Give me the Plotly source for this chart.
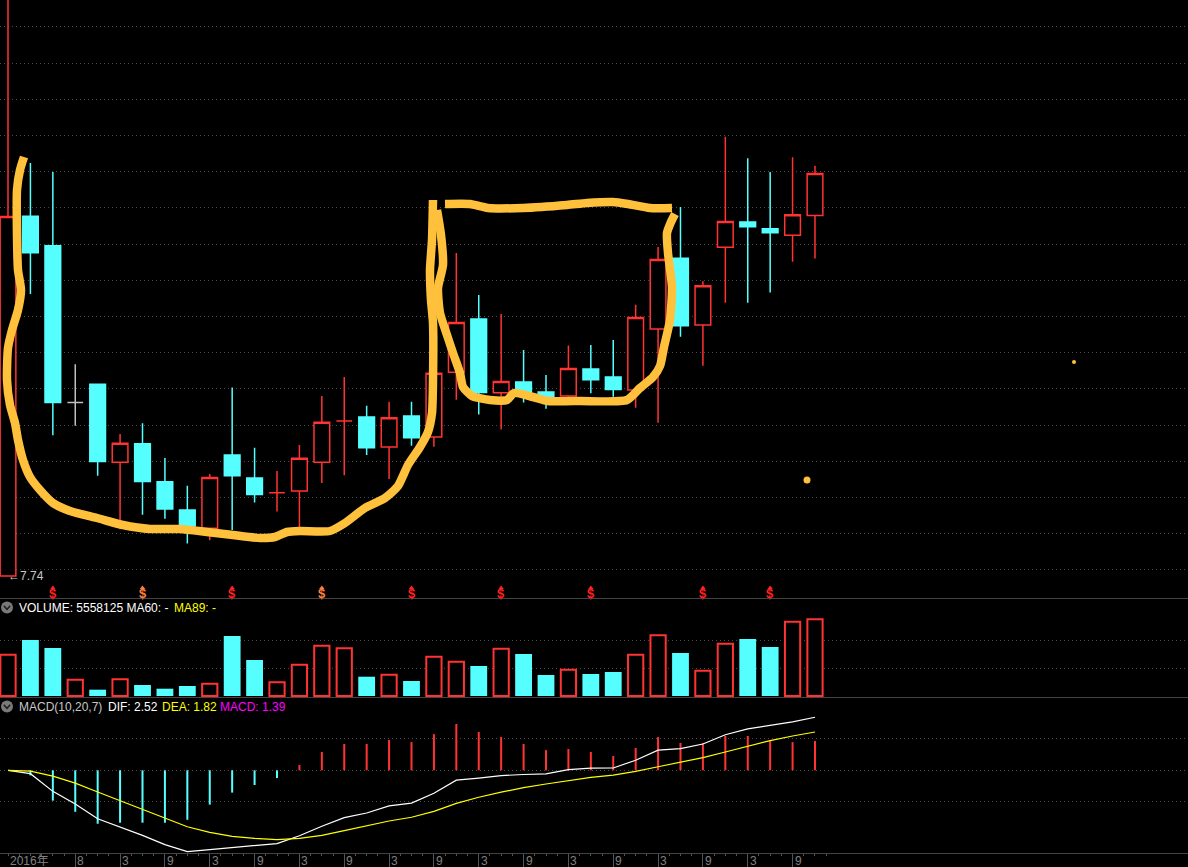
import plotly.graph_objects as go

W, H = 1188, 867

# ---------------- data ----------------
candle_index = list(range(37))
open_ = [7.74, 17.68, 16.86, 12.53, 13.04, 10.88, 11.39, 10.34, 9.56, 9.06,
         11.08, 10.45, 10.04, 10.09, 10.88, 12.02, 12.13, 11.30, 12.16, 11.58,
         13.37, 14.84, 12.80, 13.10, 12.82, 12.71, 13.46, 13.24, 12.88, 14.56,
         16.52, 14.67, 16.82, 17.52, 17.33, 17.15, 17.70]
high_ = [23.65, 19.15, 18.90, 13.59, 13.05, 11.66, 11.96, 11.00, 10.23, 10.56,
         12.95, 11.28, 10.64, 11.36, 12.71, 13.24, 12.44, 12.55, 12.55, 13.38,
         16.66, 15.50, 14.98, 13.98, 13.29, 14.11, 14.12, 14.26, 15.23, 16.83,
         17.93, 15.88, 19.87, 19.28, 18.90, 19.31, 19.07]
low_ = [7.74, 15.53, 11.63, 11.89, 10.51, 9.03, 9.43, 9.32, 8.64, 8.73,
        9.01, 9.77, 9.52, 9.09, 10.31, 10.52, 11.08, 10.42, 11.34, 11.31,
        12.61, 12.20, 11.79, 12.53, 12.36, 12.66, 12.79, 12.69, 12.39, 11.97,
        14.35, 13.55, 15.29, 15.29, 15.57, 16.42, 16.51]
close_ = [17.67, 16.67, 12.53, 12.53, 10.90, 11.41, 10.35, 9.59, 9.12, 10.46,
          10.51, 9.99, 10.04, 10.99, 11.99, 12.02, 11.28, 12.11, 11.56, 13.34,
          14.74, 12.81, 13.11, 12.79, 12.69, 13.47, 13.16, 12.89, 14.88, 16.48,
          14.65, 15.76, 17.53, 17.39, 17.22, 17.72, 18.86]
volume = [2993000, 4058000, 3478000, 1181000, 457000, 1210000, 797000, 529000, 725000, 891000,
          4348000, 2609000, 993000, 2268000, 3645000, 3457000, 1399000, 1544000, 1087000, 2848000,
          2486000, 2174000, 3428000, 3044000, 1522000, 1906000, 1594000, 1739000, 2993000, 4399000,
          3116000, 1833000, 3790000, 4131000, 3551000, 5384000, 5558125]
dif = [0.00, -0.16, -1.00, -1.60, -2.30, -2.69, -3.09, -3.53, -3.86, -3.77,
       -3.67, -3.58, -3.48, -3.11, -2.66, -2.25, -2.03, -1.69, -1.56, -1.09,
       -0.47, -0.37, -0.25, -0.20, -0.17, 0.03, 0.10, 0.11, 0.48, 0.96,
       1.03, 1.25, 1.69, 1.97, 2.13, 2.30, 2.52]
dea = [0.00, -0.04, -0.28, -0.61, -1.03, -1.44, -1.84, -2.28, -2.68, -2.95,
       -3.14, -3.23, -3.29, -3.23, -3.09, -2.87, -2.65, -2.41, -2.23, -1.95,
       -1.57, -1.28, -1.04, -0.82, -0.65, -0.48, -0.34, -0.23, -0.05, 0.17,
       0.38, 0.60, 0.87, 1.15, 1.41, 1.63, 1.82]
macd = [0.00, -0.24, -1.44, -1.97, -2.54, -2.49, -2.49, -2.49, -2.35, -1.63,
        -1.06, -0.70, -0.37, 0.25, 0.87, 1.25, 1.25, 1.44, 1.34, 1.72,
        2.20, 1.82, 1.58, 1.25, 0.96, 1.01, 0.87, 0.68, 1.06, 1.58,
        1.30, 1.30, 1.63, 1.63, 1.44, 1.34, 1.39]
axis_label_index = [0, 3, 5, 7, 9, 11, 13, 15, 17, 19, 21, 23, 25, 27, 29, 31, 33, 35]
axis_label_text = ["2016年", "8", "3", "9", "3", "9", "3", "9", "3", "9",
                   "3", "9", "3", "9", "3", "9", "3", "9"]
signal_index = [2, 6, 10, 14, 18, 22, 26, 31, 34]
signal_color = ["#ff2222", "#ff8040", "#ff2222", "#ff8040", "#ff2222",
                "#ff2222", "#ff2222", "#ff2222", "#ff2222"]

# hand-drawn highlight strokes (screen pixels of the drawing)
stroke_u = [(24, 157), (20, 170), (17, 190), (17, 235), (18, 270), (21, 290), (18, 310),
            (12, 330), (8, 348), (7, 380), (10, 405), (15, 423), (18, 440), (23, 460),
            (30, 477), (40, 490), (53, 503), (70, 511), (97, 518), (123, 525), (150, 529),
            (180, 529), (207, 532), (233, 535), (260, 538), (275, 537), (287, 532),
            (300, 531), (330, 531), (345, 523), (365, 508), (385, 498), (398, 486),
            (408, 465), (420, 447), (428, 432), (432, 413), (433, 380), (433, 323),
            (431, 300), (430, 270), (432, 240), (433, 200)]
stroke_cup = [(437, 210), (441, 235), (443, 265), (438, 288), (440, 313), (447, 335),
              (453, 353), (460, 373), (463, 387), (472, 396), (490, 400), (507, 400),
              (514, 393), (533, 397), (548, 401), (580, 401), (627, 400), (640, 388),
              (653, 377), (660, 366), (664, 347), (670, 320), (672, 287), (668, 253),
              (667, 233), (671, 222), (675, 214)]
stroke_top = [(445, 204), (470, 204), (488, 208), (523, 208), (567, 205), (587, 203),
              (613, 202), (628, 204), (650, 208), (672, 208)]
stroke_dots = [(807, 480, 7), (1074, 362, 4)]

# ---------------- styles ----------------
RED = "#ff3333"
CYAN = "#55ffff"
GRAY = "#c0c0c0"
GRID = "#4a4a4a"
DOTS = "1px,3px"
AMBER = "#ffc13b"
FONT = "Liberation Sans, Arial, Noto Sans CJK SC, sans-serif"


def fx(px):
    return px / W


def fy(py):
    return 1 - py / H


price_dom = [fy(598), 1]
vol_dom = [fy(697), fy(599)]
macd_dom = [fy(853), fy(698)]
X_RANGE = [-0.357, 52.64]


def kind(i):
    if close_[i] > open_[i]:
        return "up"
    if close_[i] < open_[i]:
        return "down"
    if i > 0 and close_[i] > close_[i - 1]:
        return "up"
    if i > 0 and close_[i] < close_[i - 1]:
        return "down"
    return "flat"


kinds = [kind(i) for i in candle_index]

fig = go.Figure()

# candles
for k, col, fill in [("up", RED, "#000000"), ("down", CYAN, CYAN), ("flat", GRAY, GRAY)]:
    idx = [i for i in candle_index if kinds[i] == k]
    if not idx:
        continue
    style = dict(line=dict(color=col, width=1.5), fillcolor=fill)
    fig.add_trace(go.Candlestick(
        x=idx,
        open=[open_[i] for i in idx], high=[high_[i] for i in idx],
        low=[low_[i] for i in idx], close=[close_[i] for i in idx],
        increasing=style, decreasing=style, whiskerwidth=0,
        xaxis="x", yaxis="y", showlegend=False, hoverinfo="skip"))

# volume
dn = [i for i in candle_index if kinds[i] == "down"]
up = [i for i in candle_index if kinds[i] != "down"]
fig.add_trace(go.Bar(x=dn, y=[volume[i] for i in dn], width=0.75,
                     marker=dict(color=CYAN, line=dict(width=0)),
                     xaxis="x2", yaxis="y2", hoverinfo="skip"))
fig.add_trace(go.Bar(x=up, y=[volume[i] for i in up], width=0.68,
                     marker=dict(color="#000000", line=dict(color=RED, width=2)),
                     xaxis="x2", yaxis="y2", hoverinfo="skip"))

# MACD
fig.add_trace(go.Bar(x=candle_index, y=macd, width=0.09,
                     marker=dict(color=[RED if m > 0 else CYAN for m in macd], line=dict(width=0)),
                     xaxis="x3", yaxis="y3", hoverinfo="skip"))
fig.add_trace(go.Scatter(x=candle_index, y=dif, mode="lines",
                         line=dict(color="#ffffff", width=1.2),
                         xaxis="x3", yaxis="y3", hoverinfo="skip"))
fig.add_trace(go.Scatter(x=candle_index, y=dea, mode="lines",
                         line=dict(color="#ffff00", width=1.2),
                         xaxis="x3", yaxis="y3", hoverinfo="skip"))

# hand-drawn strokes on a pixel overlay of the price panel
for s in (stroke_u, stroke_cup, stroke_top):
    fig.add_trace(go.Scatter(x=[p[0] for p in s], y=[p[1] for p in s], mode="lines",
                             line=dict(color=AMBER, width=8.5, shape="spline", smoothing=0.6),
                             xaxis="x4", yaxis="y4", hoverinfo="skip"))
fig.add_trace(go.Scatter(x=[d[0] for d in stroke_dots], y=[d[1] for d in stroke_dots],
                         mode="markers",
                         marker=dict(color=AMBER, size=[d[2] for d in stroke_dots], opacity=1,
                                     line=dict(width=0)),
                         xaxis="x4", yaxis="y4", hoverinfo="skip"))

axis_common = dict(range=X_RANGE, showgrid=False, showticklabels=False, zeroline=False,
                   showline=True, linecolor="#444444", linewidth=1, fixedrange=True)
minor_ticks = [i * 0.5 for i in range(0, 2 * len(candle_index))]

layout = dict(
    width=W, height=H, margin=dict(l=0, r=0, t=0, b=0),
    paper_bgcolor="#000000", plot_bgcolor="#000000",
    showlegend=False, hovermode=False, dragmode=False,
    barmode="overlay", boxgap=0.3, boxgroupgap=0.0,
    xaxis=dict(domain=[0, 1], anchor="y", rangeslider=dict(visible=False), ticks="", **axis_common),
    xaxis2=dict(domain=[0, 1], anchor="y2", ticks="", **axis_common),
    xaxis3=dict(domain=[0, 1], anchor="y3", tickmode="array",
                tickvals=axis_label_index[1:], ticks="outside", ticklen=14,
                tickcolor="#555555", tickwidth=1,
                minor=dict(tickmode="array", tickvals=minor_ticks, ticks="outside",
                           ticklen=2, tickcolor="#555555", showgrid=False),
                **axis_common),
    xaxis4=dict(overlaying="x", range=[0, W], visible=False, fixedrange=True),
    yaxis=dict(domain=price_dom, range=[7.132, 23.651], showticklabels=False,
               showgrid=True, gridcolor=GRID, griddash=DOTS, gridwidth=1,
               tick0=7.906, dtick=1, zeroline=False, fixedrange=True),
    yaxis2=dict(domain=vol_dom, range=[-72466, 7.03e6], showticklabels=False,
                tickmode="array", tickvals=[2e6, 4e6], showgrid=True, gridcolor=GRID,
                griddash=DOTS, zeroline=False, fixedrange=True),
    yaxis3=dict(domain=macd_dom, range=[-3.929, 3.435], showticklabels=False,
                tickmode="array", tickvals=[-1.5, 0, 1.5], showgrid=True, gridcolor=GRID,
                griddash=DOTS, zeroline=False, fixedrange=True),
    yaxis4=dict(overlaying="y", range=[598, 0], visible=False, fixedrange=True),
)
fig.update_layout(**layout)

ann = []


def text(px, py, s, color, size=12, anchor="left", bold=False):
    ann.append(dict(x=fx(px), y=fy(py), xref="paper", yref="paper", text=("<b>%s</b>" % s) if bold else s,
                    showarrow=False, xanchor=anchor, yanchor="middle",
                    font=dict(family=FONT, size=size, color=color)))


# panel legends
text(17, 607.5, "VOLUME: %d MA60: -" % volume[-1], "#ffffff")
text(172, 607.5, "MA89: -", "#ffff00")
text(17, 706.5, "MACD(10,20,7)", "#c8c8c8")
text(106, 706.5, "DIF: %.2f" % dif[-1], "#ffffff")
text(160, 706.5, "DEA: %.2f" % dea[-1], "#ffff00")
text(218, 706.5, "MACD: %.2f" % macd[-1], "#ff00ff")

# low marker
ann.append(dict(x=0, y=low_[0], xref="x", yref="y", text="←%.2f" % low_[0], showarrow=False,
                xanchor="left", yanchor="middle", xshift=-2,
                font=dict(family=FONT, size=12, color="#c8c8c8")))

shapes = []

# signal markers: "$" with a small hat triangle
for i, c in zip(signal_index, signal_color):
    ann.append(dict(x=i, y=fy(593.5), xref="x", yref="paper", text="<b>$</b>", showarrow=False,
                    xanchor="center", yanchor="middle", font=dict(family=FONT, size=13, color=c)))
    shapes.append(dict(type="path", xref="x", yref="paper",
                       path="M %f %f L %f %f L %f %f Z" % (i - 0.12, fy(589), i, fy(585.5),
                                                            i + 0.12, fy(589)),
                       fillcolor=c, line=dict(width=0)))

# x-axis labels
for i, s in zip(axis_label_index, axis_label_text):
    ann.append(dict(x=i, y=fy(860.5), xref="x3", yref="paper", text=s, showarrow=False,
                    xanchor="left", yanchor="middle", xshift=0,
                    font=dict(family=FONT, size=12, color="#808080")))

for cy in (607.5, 706.5):
    shapes.append(dict(type="circle", xref="paper", yref="paper",
                       x0=fx(1), x1=fx(13), y0=fy(cy + 6), y1=fy(cy - 6),
                       fillcolor="#7a7a7a", line=dict(width=0)))
    shapes.append(dict(type="path", xref="paper", yref="paper",
                       path="M %f %f L %f %f L %f %f" % (fx(3.8), fy(cy - 1.8), fx(7), fy(cy + 1.8),
                                                          fx(10.2), fy(cy - 1.8)),
                       line=dict(color="#1e1e1e", width=1.5)))

fig.update_layout(annotations=ann, shapes=shapes)

fig.write_html("out.html", include_plotlyjs=True, full_html=True,
               config=dict(displayModeBar=False, staticPlot=True),
               post_script="document.body.style.margin='0';document.body.style.overflow='hidden';")
